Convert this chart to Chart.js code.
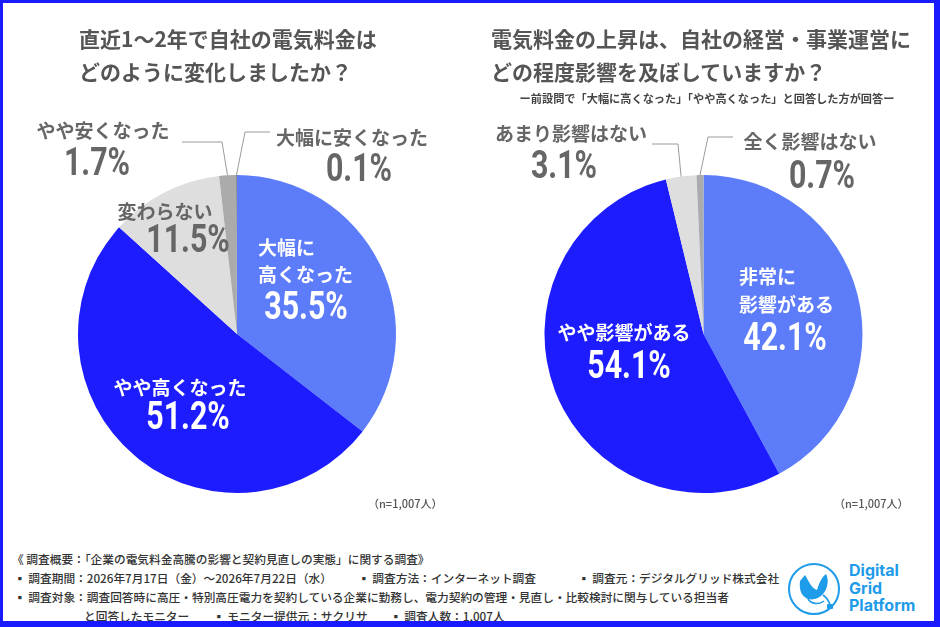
<!DOCTYPE html>
<html lang="ja">
<head>
<meta charset="utf-8">
<script src="https://cdn.jsdelivr.net/npm/chart.js@4"></script>
<style>
  html, body { margin:0; padding:0; }
  body { width:940px; height:627px; position:relative; background:#fff; overflow:hidden;
         font-family:"Noto Sans CJK JP","Noto Sans",sans-serif; color:#555; }
  #frame { position:absolute; left:0; top:0; width:940px; height:627px; box-sizing:border-box;
           border-style:solid; border-color:#1A1AFF; border-width:3px 6px 6px 3px; z-index:5; pointer-events:none; }
  canvas { position:absolute; top:0; }
  .t { position:absolute; white-space:nowrap; z-index:3; }
  .title { font-size:21px; font-weight:700; color:#555; line-height:1; }
  .lab { font-size:19px; font-weight:700; line-height:1; transform:translate(-50%,-50%); }
  .labL { font-size:19px; font-weight:700; line-height:1; transform:translateY(-50%); }
  .pct { font-family:"Roboto","Liberation Sans",sans-serif; font-weight:700;
         font-size:38px; line-height:1; transform:translate(-50%,-50%) scaleX(0.8); }
  .gray { color:#666; }
  .white { color:#fff; }
  .n { font-size:11px; font-weight:500; color:#555; line-height:1; transform:translateY(-50%); }
  .foot { font-size:11.7px; font-weight:500; color:#333; line-height:1; transform:translateY(-50%); }
  .sub { font-size:11.2px; font-weight:700; color:#444; line-height:1; transform:translate(-50%,-50%); }
  .logo { position:absolute; z-index:3; color:#1E9BE9; font-family:"Inter","Roboto",sans-serif; font-weight:700;
          font-size:16px; line-height:17.5px; }
</style>
</head>
<body>
<div id="frame"></div>
<canvas id="c1" width="470" height="540" style="left:0px"></canvas>
<canvas id="c2" width="470" height="540" style="left:470px"></canvas>
<div id="texts"></div>
<script>
// ---- Data ----
const q1Categories = ['大幅に高くなった','やや高くなった','変わらない','やや安くなった','大幅に安くなった'];
const q1Values = [35.5, 51.2, 11.5, 1.7, 0.1];
const q1Colors = ['#5C7CF9','#1C1CFF','#DEDEDE','#ABABAB','#8A8A8A'];

const q2Categories = ['非常に影響がある','やや影響がある','あまり影響はない','全く影響はない'];
const q2Values = [42.1, 54.1, 3.1, 0.7];
const q2Colors = ['#5C7CF9','#1C1CFF','#DEDEDE','#ABABAB'];

const q1Title = ['直近1～2年で自社の電気料金は','どのように変化しましたか？'];
const q2Title = ['電気料金の上昇は、自社の経営・事業運営に','どの程度影響を及ぼしていますか？'];
const q2Subtitle = 'ー前設問で「大幅に高くなった」「やや高くなった」と回答した方が回答ー';
const sampleNote = '（n=1,007人）';

// ---- Leader line plugin ----
const leaderPlugin = {
  id: 'leaders',
  afterDatasetsDraw(chart, args, opts) {
    const ctx = chart.ctx;
    const meta = chart.getDatasetMeta(0);
    ctx.save();
    ctx.strokeStyle = '#9A9A9A';
    ctx.lineWidth = 1;
    (opts.lines || []).forEach(l => {
      const arc = meta.data[l.index];
      const mid = (arc.startAngle + arc.endAngle) / 2;
      const r = arc.outerRadius;
      ctx.beginPath();
      ctx.moveTo(arc.x + r * Math.cos(mid), arc.y + r * Math.sin(mid));
      ctx.lineTo(l.elbow[0] - opts.offsetX, l.elbow[1]);
      ctx.lineTo(l.end[0] - opts.offsetX, l.end[1]);
      ctx.stroke();
    });
    ctx.restore();
  }
};

function makePie(id, labels, values, colors, padding, leaders, offsetX) {
  return new Chart(document.getElementById(id), {
    type: 'pie',
    data: { labels: labels, datasets: [{ data: values, backgroundColor: colors, borderWidth: 0 }] },
    options: {
      responsive: false, animation: false,
      layout: { padding: padding },
      plugins: { legend: { display: false }, tooltip: { enabled: false },
                 leaders: { lines: leaders, offsetX: offsetX } }
    },
    plugins: [leaderPlugin]
  });
}

makePie('c1', q1Categories, q1Values, q1Colors,
  { left: 78, top: 175, right: 74, bottom: 47 },
  [ { index: 3, elbow: [222, 142], end: [182, 142] },
    { index: 4, elbow: [245, 132], end: [270, 132] } ], 0);

makePie('c2', q2Categories, q2Values, q2Colors,
  { left: 74, top: 175, right: 77, bottom: 47 },
  [ { index: 2, elbow: [678, 144], end: [652, 144] },
    { index: 3, elbow: [708, 137], end: [733, 137] } ], 470);

// ---- Text ----
const T = document.getElementById('texts');
function add(cls, text, x, y) {
  const d = document.createElement('div');
  d.className = 't ' + cls;
  d.textContent = text;
  d.style.left = x + 'px';
  d.style.top = y + 'px';
  T.appendChild(d);
  return d;
}
const pct = v => v.toFixed(1) + '%';

// titles
add('title', q1Title[0], 79, 28);
add('title', q1Title[1], 79, 61);
add('title', q2Title[0], 491, 28);
add('title', q2Title[1], 491, 61);
add('sub', q2Subtitle, 707, 99);

// left pie labels
add('labL white', '大幅に', 258, 246);
add('labL white', '高くなった', 258, 273);
add('pct white', pct(q1Values[0]), 306, 306);
add('lab white', q1Categories[1], 180, 386);
add('pct white', pct(q1Values[1]), 188, 416);
add('lab gray', q1Categories[2], 165, 210);
add('pct gray', pct(q1Values[2]), 188, 239);
add('lab gray', q1Categories[3], 103, 129);
add('pct gray', pct(q1Values[3]), 97, 162);
add('lab gray', q1Categories[4], 352, 136);
add('pct gray', pct(q1Values[4]), 359, 168);
add('n', sampleNote, 368, 503);

// right pie labels
add('labL white', '非常に', 739, 275);
add('labL white', '影響がある', 739, 303);
add('pct white', pct(q2Values[0]), 785, 337);
add('lab white', q2Categories[1], 624, 331);
add('pct white', pct(q2Values[1]), 629, 365);
add('lab gray', q2Categories[2], 571, 132);
add('pct gray', pct(q2Values[2]), 564, 165);
add('lab gray', q2Categories[3], 810, 140);
add('pct gray', pct(q2Values[3]), 822, 175);
add('n', sampleNote, 834, 503);

// footer
add('foot', '《 調査概要：「企業の電気料金高騰の影響と契約見直しの実態」に関する調査》', 12, 559);
add('foot', '▪ 調査期間：2026年7月17日（金）～2026年7月22日（水）', 14, 578);
add('foot', '▪ 調査方法：インターネット調査', 358, 578);
add('foot', '▪ 調査元：デジタルグリッド株式会社', 578, 578);
add('foot', '▪ 調査対象：調査回答時に高圧・特別高圧電力を契約している企業に勤務し、電力契約の管理・見直し・比較検討に関与している担当者', 14, 597);
add('foot', 'と回答したモニター', 84, 616);
add('foot', '▪ モニター提供元：サクリサ', 213, 616);
add('foot', '▪ 調査人数：1,007人', 390, 616);
</script>
<svg style="position:absolute;left:786px;top:561px;z-index:3" width="58" height="58" viewBox="0 0 58 58">
  <circle cx="28" cy="28" r="25" fill="none" stroke="#1E9BE9" stroke-width="2"/>
  <path d="M14 20 L19 14 L23 21 C25 25 28 28 31 29 C33 23 35 17 40 13 C43 19 42 27 37 33 C33 38 25 40 20 37 C15 34 13 28 14 20 Z" fill="#1E9BE9"/>
  <path d="M22 38 C25 43 33 44 38 40" fill="none" stroke="#1E9BE9" stroke-width="1.6"/>
  <path d="M37 34 C41 37 43 40 44 44" fill="none" stroke="#1E9BE9" stroke-width="1.6"/>
  <rect x="41" y="43" width="6" height="5" rx="1" fill="#1E9BE9"/>
</svg>
<div class="logo" style="left:849px;top:562px">Digital<br>Grid<br>Platform</div>
</body>
</html>
